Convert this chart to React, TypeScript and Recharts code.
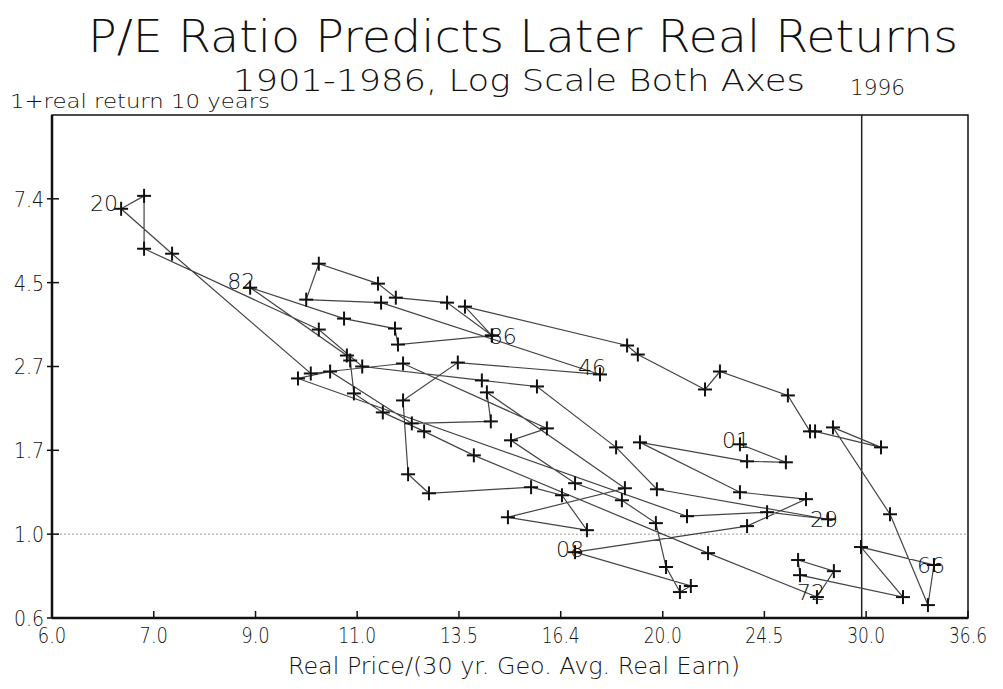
import { ScatterChart, Scatter, XAxis, YAxis, ReferenceLine, ReferenceArea } from "recharts";

// P/E (price / 30 yr geometric avg real earnings), in path order
const peRatio = [
  23.38, 25.59, 23.71, 19.21, 23.38, 26.62, 23.71, 16.91, 21.23, 20.78,
  20.22, 19.82, 18.54, 16.91, 14.91, 16.0, 12.06, 10.06, 7.66, 6.93,
  7.25, 7.25, 10.22, 11.13, 14.08, 15.69, 18.33, 19.86, 27.8, 24.66,
  21.07, 9.81, 10.45, 12.27, 14.33, 14.22, 18.65, 14.82, 17.31, 16.48,
  15.51, 12.69, 12.18, 12.06, 13.43, 17.76, 11.55, 9.97, 10.22, 11.48,
  11.89, 13.15, 14.36, 13.62, 18.73, 19.13, 21.83, 22.48, 25.69, 26.83,
  27.1, 30.85, 28.07, 31.4, 33.83, 34.23, 29.66, 32.21, 26.31, 26.21,
  28.12, 27.2, 21.96, 13.86, 12.57, 11.59, 10.95, 10.87, 10.8, 8.93,
  10.74, 11.87, 11.94, 14.36,
];

// 1 + real return over the following 10 years
const realReturn = [
  1.709, 1.535, 1.544, 1.729, 1.284, 1.232, 1.049, 0.898, 0.734, 0.708,
  0.822, 1.068, 1.224, 1.355, 1.75, 1.879, 2.767, 2.607, 5.326, 6.961,
  7.52, 5.486, 3.388, 2.718, 2.501, 2.413, 1.678, 1.307, 1.093, 1.14,
  1.113, 2.531, 2.638, 1.936, 1.959, 2.329, 1.315, 1.106, 1.024, 1.261,
  1.323, 1.276, 1.429, 2.22, 2.783, 2.592, 3.978, 4.05, 5.018, 4.455,
  4.098, 3.978, 3.269, 3.885, 3.08, 2.919, 2.37, 2.638, 2.287, 1.846,
  1.846, 1.678, 1.89, 1.126, 0.655, 0.832, 0.926, 0.687, 0.783, 0.857,
  0.802, 0.687, 0.893, 1.6, 1.846, 2.067, 2.315, 2.817, 2.902, 4.35,
  3.617, 3.408, 3.098, 3.269,
];

// year labels drawn next to some points: [point index, label]
const yearLabels: [number, string][] = [
  [0, "01"], [7, "08"], [19, "20"], [28, "29"], [45, "46"],
  [65, "66"], [71, "72"], [79, "82"], [83, "86"],
];

const xTicks = [6.05, 7.389, 9.025, 11.02, 13.46, 16.44, 20.09, 24.53, 29.96, 36.6];
const xTickLabels = ["6.0", "7.0", "9.0", "11.0", "13.5", "16.4", "20.0", "24.5", "30.0", "36.6"];
const yTicks = [0.6065, 1.0, 1.649, 2.718, 4.482, 7.389];
const yTickLabels = ["0.6", "1.0", "1.7", "2.7", "4.5", "7.4"];

const xDomain = [6.05, 36.6];
const yDomain = [0.6065, 12.18];
const marker1996 = 29.7;

const labelMap = new Map(yearLabels);
const data = peRatio.map((pe, i) => ({ pe, ret: realReturn[i], label: labelMap.get(i) || "" }));

// where the label text ends, relative to the cross
const labelPos: Record<string, [number, number]> = {
  "01": [10, 4], "08": [9, 5], "20": [-3, 2], "29": [10, 8], "46": [6, 1],
  "66": [11, 8], "72": [8, 3], "82": [5, 1], "86": [25, 8],
};

const font = "'DejaVu Sans', sans-serif";

function pickLabel(list: string[], ticks: number[], props: any) {
  if (typeof props.index === "number" && list[props.index]) return list[props.index];
  const v = props.payload?.value;
  let best = 0;
  ticks.forEach((t, i) => {
    if (Math.abs(t - v) < Math.abs(ticks[best] - v)) best = i;
  });
  return list[best];
}

// tick marks point up into the plot, label below
function XTick(props: any) {
  const t = pickLabel(xTickLabels, xTicks, props);
  const axisY = props.y - 8;
  return (
    <g>
      <line x1={props.x} y1={axisY} x2={props.x} y2={axisY - 7} stroke="#111" strokeWidth={1.5} />
      <text x={props.x} y={props.y + 17} textAnchor="middle" fontSize={21} fontFamily={font}
        fontWeight={300} fill="#111" textLength={t.length * 9.5} lengthAdjust="spacingAndGlyphs">
        {t}
      </text>
    </g>
  );
}

function YTick(props: any) {
  const t = pickLabel(yTickLabels, yTicks, props);
  const axisX = props.x + 8;
  return (
    <g>
      <line x1={axisX - 5} y1={props.y} x2={axisX + 7} y2={props.y} stroke="#111" strokeWidth={1.5} />
      <text x={props.x} y={props.y + 8} textAnchor="end" fontSize={21} fontFamily={font}
        fontWeight={300} fill="#111" textLength={t.length * 10} lengthAdjust="spacingAndGlyphs">
        {t}
      </text>
    </g>
  );
}

function renderCross(props: any) {
  const { cx, cy } = props;
  const lab = props.payload ? props.payload.label : props.label;
  const off = lab ? labelPos[lab] || [10, 5] : null;
  return (
    <g>
      <line x1={cx - 7} y1={cy} x2={cx + 7} y2={cy} stroke="#111" strokeWidth={2} />
      <line x1={cx} y1={cy - 7} x2={cx} y2={cy + 7} stroke="#111" strokeWidth={2} />
      {lab && off && (
        <text x={cx + off[0]} y={cy + off[1]} textAnchor="end" fontSize={22} fontFamily={font}
          fontWeight={300} fill="#111">
          {lab}
        </text>
      )}
    </g>
  );
}

export default function App() {
  return (
    <div style={{ position: "relative", width: 995, height: 673 }}>
      <ScatterChart width={995} height={673} margin={{ top: 107, right: 35, bottom: 33, left: 0 }}>
        <XAxis
          type="number"
          dataKey="pe"
          scale="log"
          domain={xDomain}
          ticks={xTicks}
          interval={0}
          allowDataOverflow
          height={30}
          tick={<XTick />}
          tickLine={false}
          axisLine={{ stroke: "#111", strokeWidth: 2.5 }}
        />
        <YAxis
          type="number"
          dataKey="ret"
          scale="log"
          domain={yDomain}
          ticks={yTicks}
          interval={0}
          allowDataOverflow
          width={44}
          tick={<YTick />}
          tickLine={false}
          axisLine={{ stroke: "#111", strokeWidth: 2.5 }}
        />
        <ReferenceArea x1={xDomain[0]} x2={xDomain[1]} y1={yDomain[0]} y2={yDomain[1]}
          fill="none" stroke="#111" strokeWidth={1.5} />
        <ReferenceLine y={1} stroke="#999" strokeDasharray="2 2" />
        <ReferenceLine x={marker1996} stroke="#222" strokeWidth={1.5} />
        <Scatter
          data={data}
          isAnimationActive={false}
          line={{ stroke: "#444", strokeWidth: 1.2 }}
          lineType="joint"
          shape={renderCross}
        />
      </ScatterChart>
      <svg width={995} height={673} style={{ position: "absolute", left: 0, top: 0, pointerEvents: "none" }}>
        <g fontFamily={font} fontWeight={300} fill="#111">
          <text x={80} y={44} fontSize={44} textLength={870} lengthAdjust="spacingAndGlyphs">
            P/E Ratio Predicts Later Real Returns
          </text>
          <text x={225} y={83} fontSize={30} textLength={572} lengthAdjust="spacingAndGlyphs">
            1901-1986, Log Scale Both Axes
          </text>
          <text x={842} y={87} fontSize={22} textLength={55} lengthAdjust="spacingAndGlyphs">
            1996
          </text>
          <text x={2} y={100} fontSize={19} textLength={260} lengthAdjust="spacingAndGlyphs">
            1+real return 10 years
          </text>
          <text x={280} y={666} fontSize={23} textLength={452} lengthAdjust="spacingAndGlyphs">
            Real Price/(30 yr. Geo. Avg. Real Earn)
          </text>
        </g>
      </svg>
    </div>
  );
}
